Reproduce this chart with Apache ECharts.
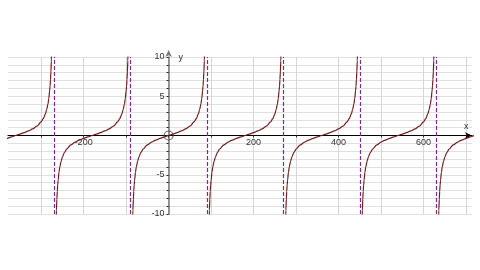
<!DOCTYPE html>
<html>
<head>
<meta charset="utf-8">
<script src="https://cdn.jsdelivr.net/npm/echarts@6/dist/echarts.min.js"></script>
<style>html,body{margin:0;padding:0;background:#fff}#c{width:480px;height:270px}</style>
</head>
<body>
<div id="c"></div>
<script>
// x range visible, in degrees
const xMin = -378;
const xMax = 714;
const yMin = -10;
const yMax = 10;
// zero crossings of each branch
const branchCenters = [-360, -180, 0, 180, 360, 540, 720];
// one branch profile: offset from centre vs value
const branchOffsets = [-85, -84, -83, -82, -81, -80, -78, -76, -73, -70, -65, -60, -50, -40, -30, -20, -10, 0, 10, 20, 30, 40, 50, 60, 65, 70, 73, 76, 78, 80, 81, 82, 83, 84, 85];
const branchValues = [-11.4, -9.5, -8.1, -7.1, -6.3, -5.7, -4.7, -4.0, -3.3, -2.75, -2.14, -1.73, -1.19, -0.84, -0.58, -0.36, -0.18, 0, 0.18, 0.36, 0.58, 0.84, 1.19, 1.73, 2.14, 2.75, 3.3, 4.0, 4.7, 5.7, 6.3, 7.1, 8.1, 9.5, 11.4];
// vertical asymptotes
const asymptotes = [-270, -90, 90, 270, 450, 630];
const xTickLabels = [-200, 200, 400, 600];
const yTickLabels = [-10, -5, 5, 10];
const originPoint = [[0, 0]];

const W = 480, H = 270;
const G = { left: 8, right: 8, top: 57, bottom: 56 };
const plotW = W - G.left - G.right, plotH = H - G.top - G.bottom;
// move the axes onto the zero lines
const xAxisOffset = -plotH * (0 - yMin) / (yMax - yMin);
const yAxisOffset = -plotW * (0 - xMin) / (xMax - xMin);

const FONT = 'Liberation Sans';
const curveColor = '#6e1e1e';
const series = branchCenters.map(function (c) {
  return {
    type: 'line',
    data: branchOffsets.map(function (o, i) { return [c + o, branchValues[i]]; }),
    showSymbol: false,
    smooth: 0.3,
    smoothMonotone: 'x',
    clip: true,
    lineStyle: { color: curveColor, width: 1.2 },
    silent: true,
    z: 3
  };
});
series.push({
  type: 'line',
  data: [],
  markLine: {
    silent: true,
    symbol: ['none', 'none'],
    label: { show: false },
    lineStyle: { color: '#7a2b92', type: [4, 2], width: 1.2 },
    data: asymptotes.map(function (a) { return { xAxis: a }; })
  },
  z: 2
});
series.push({
  type: 'scatter',
  data: originPoint,
  symbol: 'circle',
  symbolSize: 9,
  itemStyle: { color: 'rgba(0,0,0,0)', borderColor: '#444', borderWidth: 1.2 },
  silent: true,
  z: 5
});

const chart = echarts.init(document.getElementById('c'));
chart.setOption({
  animation: false,
  backgroundColor: '#fff',
  grid: { left: G.left, right: G.right, top: G.top, bottom: G.bottom, containLabel: false, outerBoundsMode: 'none' },
  xAxis: {
    type: 'value',
    min: xMin,
    max: xMax,
    splitNumber: 10,
    minInterval: 100,
    maxInterval: 100,
    offset: xAxisOffset,
    name: 'x',
    nameLocation: 'end',
    nameGap: -8,
    nameTextStyle: { fontFamily: FONT, fontSize: 9, color: '#333', verticalAlign: 'bottom', padding: [0, 0, 4, 0] },
    axisLine: { onZero: false, lineStyle: { color: '#000', width: 1.2 }, symbol: ['none', 'arrow'], symbolSize: [5, 7], symbolOffset: [0, 0] },
    axisTick: { show: true, length: 2, lineStyle: { color: '#333' } },
    axisLabel: {
      fontFamily: FONT, fontSize: 9, color: '#333', margin: 3,
      showMinLabel: false, showMaxLabel: false,
      formatter: function (v) { return xTickLabels.indexOf(v) >= 0 ? String(v) : ''; }
    },
    splitLine: { show: true, showMinLine: false, showMaxLine: false, lineStyle: { color: '#d6d6d6', width: 1 } }
  },
  yAxis: {
    type: 'value',
    min: yMin,
    max: yMax,
    interval: 1,
    offset: yAxisOffset,
    name: 'y',
    nameLocation: 'end',
    nameGap: -5,
    nameTextStyle: { fontFamily: FONT, fontSize: 9, color: '#333', align: 'left', padding: [0, 0, 0, 10] },
    axisLine: { onZero: false, lineStyle: { color: '#777', width: 1.5 }, symbol: ['none', 'arrow'], symbolSize: [5, 7], symbolOffset: [0, 7] },
    axisTick: { show: true, length: 2, lineStyle: { color: '#222' } },
    axisLabel: {
      fontFamily: FONT, fontSize: 9, color: '#333', margin: 4,
      formatter: function (v) { return yTickLabels.indexOf(v) >= 0 ? String(v) : ''; }
    },
    splitLine: { show: true, lineStyle: { color: '#e0e0e0', width: 1 } }
  },
  series: series
});
</script>
</body>
</html>
